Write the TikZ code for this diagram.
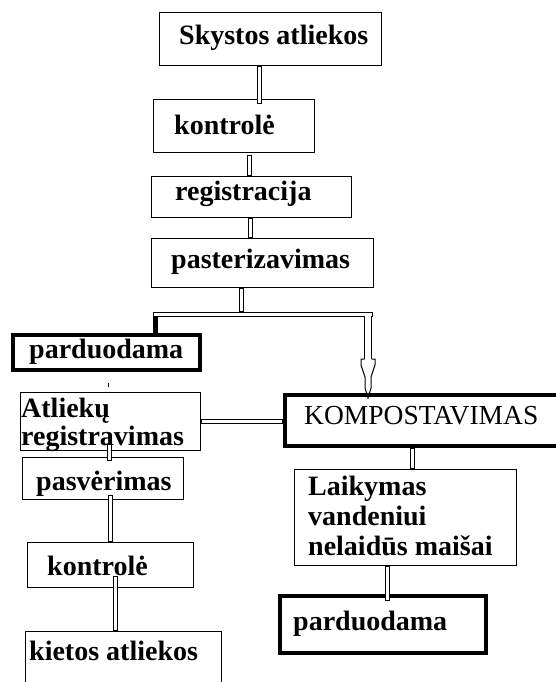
\documentclass[tikz,border=0pt]{standalone}
\usepackage{fontspec}
\setmainfont{Liberation Serif}
\usepackage{tikz}

\begin{document}
\begin{tikzpicture}[x=1pt, y=-1pt,
	box/.style={shape=rectangle, draw, line width=1pt, inner sep=0pt},
	heavybox/.style={shape=rectangle, draw, line width=4pt, inner sep=0pt},
	txt/.style={anchor=base west, inner sep=0pt, align=left, font=\fontsize{28}{29}\selectfont\bfseries},
	pipe/.style={line width=5pt, postaction={draw=white, line width=3pt, shorten <=1pt, shorten >=1pt}},
	arrowpipe/.style={line width=8pt, postaction={draw=white, line width=6pt}}]
	\useasboundingbox (0,0) rectangle (556,682);
	% Boxes:
	\node[box, minimum width=222pt, minimum height=53pt] (skystos) at (270, 39.5){};
	\node[box, minimum width=161pt, minimum height=52pt] (kontroleA) at (233.5, 126){};
	\node[box, minimum width=200pt, minimum height=41pt] (registracija) at (251, 196.5){};
	\node[box, minimum width=222pt, minimum height=49pt] (pasterizavimas) at (262, 262.5){};
	\node[heavybox, minimum width=187pt, minimum height=35pt] (parduodamaA) at (106.5, 352.5){};
	\node[box, minimum width=180pt, minimum height=58pt] (registravimas) at (110, 421){};
	\node[heavybox, minimum width=335pt, minimum height=51pt] (kompost) at (452.5, 420.5){};
	\node[box, minimum width=161pt, minimum height=42pt] (pasverimas) at (102.5, 478){};
	\node[box, minimum width=166pt, minimum height=45pt] (kontroleB) at (110, 564.5){};
	\node[box, minimum width=196pt, minimum height=89pt] (kietos) at (123, 675.5){};
	\node[box, minimum width=222pt, minimum height=96pt] (laikymas) at (405, 517){};
	\node[heavybox, minimum width=206pt, minimum height=57pt] (parduodamaB) at (383, 624.5){};
	% Texts (multi-line ones sit on their last line):
	\node[txt] (skystosT) at (179, 45){Skystos atliekos};
	\node[txt] (kontroleAT) at (174, 135){kontrolė};
	\node[txt] (registracijaT) at (175, 200){registracija};
	\node[txt] (pasterizavimasT) at (171, 268){pasterizavimas};
	\node[txt] (parduodamaAT) at (29, 358){parduodama};
	\node[txt, font=\fontsize{28}{28}\selectfont\bfseries] (registravimasT) at (21, 445){Atliekų\\registravimas};
	\node[txt, font=\fontsize{27.5}{28}\selectfont] (kompostT) at (304, 424){KOMPOSTAVIMAS};
	\node[txt] (pasverimasT) at (36, 490){pasvėrimas};
	\node[txt] (kontroleBT) at (47, 575){kontrolė};
	\node[txt] (kietosT) at (29, 660){kietos atliekos};
	\node[txt, font=\fontsize{28}{30}\selectfont\bfseries] (laikymasT) at (308, 555){Laikymas\\vandeniui\\nelaidūs maišai};
	\node[txt] (parduodamaBT) at (293, 630){parduodama};
	% Connectors:
	\coordinate (split) at (241.5, 312);
	\coordinate (splitL) at (153, 314.5);
	\coordinate (splitR) at (373, 314.5);
	\coordinate (shaft) at (368, 316);
	\coordinate (headtop) at (368, 359);
	\draw[pipe] ([xshift=-10.5pt]skystos.south) -- ([xshift=26pt, yshift=-5pt]kontroleA.north);
	\draw[pipe] ([xshift=16pt, yshift=-2pt]kontroleA.south) -- ([xshift=-1.5pt]registracija.north);
	\draw[pipe] ([xshift=-1pt]registracija.south) -- ([xshift=-12pt]pasterizavimas.north);
	\draw[pipe] ([xshift=-20.5pt]pasterizavimas.south) -- (split);
	\draw[line width=5pt] ([xshift=2.5pt]splitL) -- ([xshift=49pt]parduodamaA.north);
	\draw[pipe] (splitL) -- (splitR);
	\draw[arrowpipe] (shaft) -- (headtop);
	\draw[line width=1pt] ([xshift=-3.5pt]headtop) -- ++(-3.5,0) -- ++(0,6) -- ++(4,12) -- ++(0,11) -- ++(3,10)
		-- ++(3,-10) -- ++(0,-11) -- ++(4,-12) -- ++(0,-6) -- ++(-3.5,0);
	\draw[pipe] (registravimas.east) -- (registravimas.east -| kompost.west);
	\draw[pipe] ([xshift=-40pt]kompost.south) -- ([xshift=7.5pt]laikymas.north);
	\draw[pipe] ([xshift=-18pt]laikymas.south) -- ([xshift=4pt, yshift=-7pt]parduodamaB.north);
	\draw[pipe] ([xshift=-1pt, yshift=7pt]registravimas.south) -- ([xshift=6.5pt, yshift=-4pt]pasverimas.north);
	\draw[pipe] ([xshift=7.5pt, yshift=5pt]pasverimas.south) -- (kontroleB.north);
	\draw[pipe] ([xshift=5pt, yshift=12pt]kontroleB.south) -- ([xshift=-8pt]kietos.north);
	\draw[line width=1pt] ([xshift=-1.5pt, yshift=9pt]registravimas.north) -- ([xshift=-1.5pt, yshift=4.5pt]registravimas.north);
\end{tikzpicture}
\end{document}
